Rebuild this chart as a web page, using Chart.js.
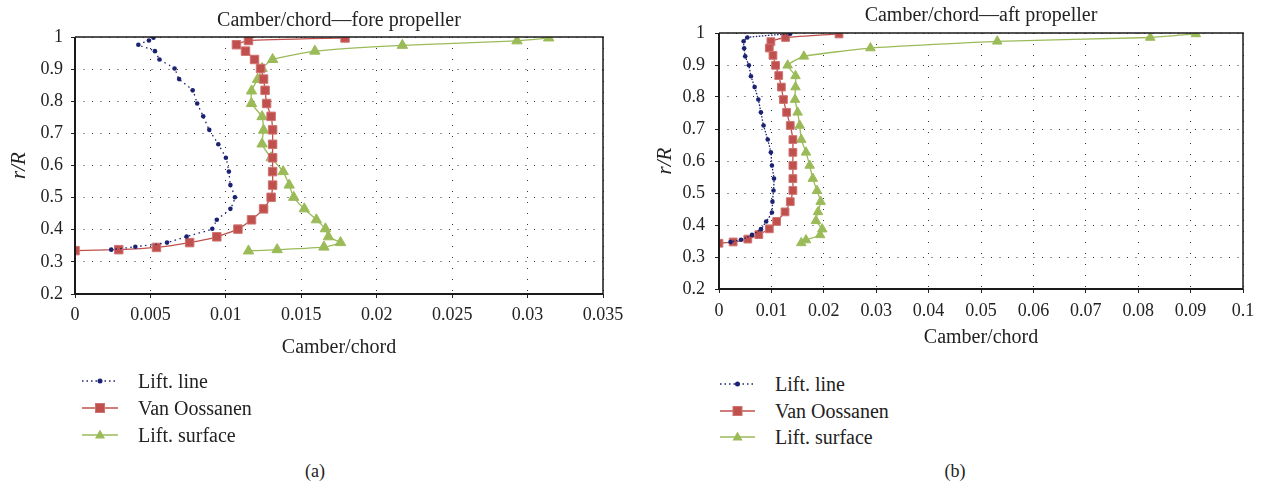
<!DOCTYPE html>
<html>
<head>
<meta charset="utf-8">
<script src="https://cdn.jsdelivr.net/npm/chart.js@4"></script>
<style>
  body { margin: 0; background: #fff; width: 1269px; height: 491px; position: relative; overflow: hidden; font-family: "Liberation Serif", serif; color: #222; }
  canvas { position: absolute; top: 0; }
  #foreChart { left: 0; }
  #aftChart { left: 640px; }
  .legend { position: absolute; font-size: 20px; }
  .legend div { position: absolute; white-space: nowrap; height: 24px; line-height: 24px; }
  .legend svg { position: absolute; top: 4px; }
  .legend span { position: absolute; }
  .cap { position: absolute; font-size: 18px; transform: translate(-50%, -50%); }
</style>
</head>
<body>
<canvas id="foreChart" width="640" height="370"></canvas>
<canvas id="aftChart" width="629" height="370"></canvas>

<div class="legend" id="legA" style="left:82px; top:369px;"></div>
<div class="legend" id="legB" style="left:720px; top:372px;"></div>
<div class="cap" style="left:315px; top:471px;">(a)</div>
<div class="cap" style="left:955px; top:471px;">(b)</div>

<script>
// fore propeller (a)
const foreLiftLineR = [0.998, 0.989, 0.976, 0.956, 0.930, 0.902, 0.869, 0.834, 0.793, 0.753, 0.711, 0.666, 0.624, 0.581, 0.539, 0.501, 0.465, 0.431, 0.403, 0.379, 0.360, 0.347, 0.338]
const foreLiftLineC = [0.0052, 0.0049, 0.0042, 0.0053, 0.0056, 0.0066, 0.0069, 0.0078, 0.0081, 0.0085, 0.0089, 0.0095, 0.0100, 0.0102, 0.0103, 0.0106, 0.0103, 0.0094, 0.0091, 0.0074, 0.0061, 0.0040, 0.0024]
const foreOossR = [0.997, 0.989, 0.976, 0.956, 0.930, 0.902, 0.869, 0.834, 0.793, 0.753, 0.711, 0.666, 0.624, 0.581, 0.539, 0.501, 0.465, 0.431, 0.402, 0.378, 0.360, 0.345, 0.338, 0.335]
const foreOossC = [0.0179, 0.0115, 0.0107, 0.0113, 0.0119, 0.0123, 0.0125, 0.0126, 0.0127, 0.0130, 0.0131, 0.0131, 0.0131, 0.0131, 0.0131, 0.0130, 0.0125, 0.0117, 0.0108, 0.0094, 0.0076, 0.0054, 0.0029, 0.0000]
const foreSurfR = [0.997, 0.988, 0.974, 0.956, 0.930, 0.902, 0.868, 0.832, 0.793, 0.752, 0.710, 0.667, 0.624, 0.581, 0.539, 0.501, 0.465, 0.431, 0.403, 0.378, 0.360, 0.346, 0.338, 0.334]
const foreSurfC = [0.0314, 0.0293, 0.0217, 0.0159, 0.0131, 0.0124, 0.0121, 0.0117, 0.0117, 0.0124, 0.0125, 0.0124, 0.0130, 0.0138, 0.0142, 0.0145, 0.0152, 0.0160, 0.0166, 0.0168, 0.0176, 0.0165, 0.0134, 0.0115]

// aft propeller (b)
const aftLiftLineR = [0.998, 0.986, 0.974, 0.952, 0.927, 0.899, 0.865, 0.831, 0.792, 0.752, 0.711, 0.667, 0.627, 0.586, 0.545, 0.508, 0.473, 0.439, 0.411, 0.387, 0.369, 0.354, 0.347]
const aftLiftLineC = [0.0136, 0.0054, 0.0047, 0.0048, 0.0050, 0.0057, 0.0061, 0.0068, 0.0075, 0.0080, 0.0085, 0.0093, 0.0099, 0.0101, 0.0105, 0.0104, 0.0102, 0.0101, 0.0090, 0.0080, 0.0063, 0.0042, 0.0022]
const aftOossR = [0.997, 0.986, 0.973, 0.953, 0.930, 0.899, 0.867, 0.831, 0.792, 0.752, 0.711, 0.667, 0.627, 0.586, 0.545, 0.508, 0.473, 0.441, 0.411, 0.388, 0.370, 0.356, 0.347, 0.343]
const aftOossC = [0.0229, 0.0127, 0.0099, 0.0096, 0.0103, 0.0108, 0.0114, 0.0119, 0.0123, 0.0129, 0.0136, 0.0141, 0.0141, 0.0141, 0.0141, 0.0141, 0.0136, 0.0126, 0.0110, 0.0096, 0.0076, 0.0055, 0.0027, 0.0000]
const aftSurfR = [0.997, 0.986, 0.974, 0.953, 0.927, 0.899, 0.866, 0.831, 0.792, 0.752, 0.711, 0.667, 0.627, 0.586, 0.545, 0.507, 0.473, 0.441, 0.413, 0.387, 0.369, 0.353, 0.344]
const aftSurfC = [0.0910, 0.0823, 0.0531, 0.0289, 0.0162, 0.0131, 0.0146, 0.0146, 0.0145, 0.0150, 0.0154, 0.0157, 0.0166, 0.0173, 0.0179, 0.0187, 0.0194, 0.0189, 0.0185, 0.0197, 0.0193, 0.0166, 0.0157]

const seriesNames = ['Lift. line', 'Van Oossanen', 'Lift. surface']
const navy = '#1c2272'
const red = '#c0504d'
const green = '#9bbb59'
const fontFam = '"Liberation Serif", "Times New Roman", serif'

function pts(c, r) {
  return c.map((v, i) => ({ x: v, y: r[i] }))
}

// plot frame: thick left/bottom, thinner top/right
const frame = {
  id: 'frame',
  afterDraw(chart) {
    const a = chart.chartArea
    const ctx = chart.ctx
    ctx.save()
    ctx.strokeStyle = '#1a1a1a'
    ctx.lineWidth = 1.5
    ctx.beginPath()
    ctx.moveTo(a.left, a.top)
    ctx.lineTo(a.right, a.top)
    ctx.lineTo(a.right, a.bottom)
    ctx.stroke()
    ctx.lineWidth = 2
    ctx.beginPath()
    ctx.moveTo(a.left, a.top)
    ctx.lineTo(a.left, a.bottom)
    ctx.lineTo(a.right, a.bottom)
    ctx.stroke()
    ctx.restore()
  }
}

function makeChart(id, o) {
  const data = {
    datasets: [
      {
        label: seriesNames[0],
        data: pts(o.lineC, o.lineR),
        borderColor: navy,
        backgroundColor: navy,
        borderWidth: 1.3,
        borderDash: o.dash,
        pointStyle: 'circle',
        pointRadius: 2.3,
        pointBorderWidth: 0,
        tension: 0.15
      },
      {
        label: seriesNames[1],
        data: pts(o.oossC, o.oossR),
        borderColor: red,
        backgroundColor: red,
        borderWidth: 1.3,
        pointStyle: 'rect',
        pointRadius: o.sq,
        pointBorderWidth: 1,
        pointBorderColor: '#cf7471',
        tension: 0.15
      },
      {
        label: seriesNames[2],
        data: pts(o.surfC, o.surfR),
        borderColor: green,
        backgroundColor: green,
        borderWidth: 1.3,
        pointStyle: 'triangle',
        pointRadius: o.tri,
        pointBorderWidth: 1,
        tension: 0.15
      }
    ]
  }

  const config = {
    type: 'scatter',
    data: data,
    options: {
      responsive: false,
      animation: false,
      showLine: true,
      layout: { padding: { left: 0, right: o.padRight, top: 0, bottom: o.padBottom } },
      plugins: {
        legend: { display: false },
        tooltip: { enabled: false },
        title: {
          display: true,
          text: o.title,
          fullSize: false,
          color: '#222',
          font: { family: fontFam, size: 20, weight: 'normal', lineHeight: 1.2 },
          padding: { top: o.titleTop, bottom: o.titleBottom }
        }
      },
      scales: {
        x: {
          type: 'linear',
          min: 0,
          max: o.xMax,
          afterFit: s => { s.height = o.xHeight },
          ticks: {
            stepSize: o.xStep,
            autoSkip: false,
            maxRotation: 0,
            padding: o.xTickPad,
            color: '#222',
            font: { family: fontFam, size: 18 },
            callback: v => parseFloat(v.toFixed(4)) + ''
          },
          grid: { color: '#333', lineWidth: 1, tickLength: 4, tickColor: '#222', tickBorderDash: [] },
          border: { display: false, dash: [1, 10] },
          title: {
            display: true,
            text: 'Camber/chord',
            color: '#222',
            font: { family: fontFam, size: 20, lineHeight: 1.2 },
            padding: { top: 0, bottom: 0 }
          }
        },
        y: {
          type: 'linear',
          min: 0.2,
          max: 1,
          afterFit: s => { s.width = o.yWidth },
          ticks: {
            stepSize: 0.1,
            autoSkip: false,
            padding: o.yTickPad,
            color: '#222',
            font: { family: fontFam, size: 18 },
            callback: v => parseFloat(v.toFixed(3)) + ''
          },
          grid: { color: '#333', lineWidth: 1, tickLength: 4, tickColor: '#222', tickBorderDash: [] },
          border: { display: false, dash: [1, 7.5] },
          title: {
            display: true,
            text: 'r/R',
            color: '#222',
            font: { family: fontFam, size: 21, style: 'italic', lineHeight: 1.2 },
            padding: { top: o.yTitleTop, bottom: 0 }
          }
        }
      }
    },
    plugins: [frame]
  }
  return new Chart(document.getElementById(id), config)
}

makeChart('foreChart', {
  title: 'Camber/chord\u2014fore propeller',
  lineC: foreLiftLineC, lineR: foreLiftLineR,
  oossC: foreOossC, oossR: foreOossR,
  surfC: foreSurfC, surfR: foreSurfR,
  dash: [1.5, 3.5], sq: 6, tri: 6,
  xMax: 0.035, xStep: 0.005,
  padRight: 37, padBottom: 10,
  titleTop: 9, titleBottom: 4,
  xHeight: 66, xTickPad: 6,
  yWidth: 75, yTickPad: 8, yTitleTop: 7
})

makeChart('aftChart', {
  title: 'Camber/chord\u2014aft propeller',
  lineC: aftLiftLineC, lineR: aftLiftLineR,
  oossC: aftOossC, oossR: aftOossR,
  surfC: aftSurfC, surfR: aftSurfR,
  dash: [1.5, 1.5], sq: 5.5, tri: 5.5,
  xMax: 0.1, xStep: 0.01,
  padRight: 26, padBottom: 20,
  titleTop: 3.5, titleBottom: 5.5,
  xHeight: 61, xTickPad: 7,
  yWidth: 79, yTickPad: 10, yTitleTop: 13
})

// legends below each chart
function legend(id, gap, iconW, textX) {
  const el = document.getElementById(id)
  const icons = [
    `<line x1="0" y1="8" x2="${iconW}" y2="8" stroke="${navy}" stroke-width="1.3" stroke-dasharray="1.5 3"/><circle cx="${iconW / 2}" cy="8" r="2.5" fill="${navy}"/>`,
    `<line x1="0" y1="8" x2="${iconW}" y2="8" stroke="${red}" stroke-width="1.3"/><rect x="${iconW / 2 - 4.5}" y="3.5" width="9" height="9" fill="${red}" stroke="#cf7471"/>`,
    `<line x1="0" y1="8" x2="${iconW}" y2="8" stroke="${green}" stroke-width="1.3"/><polygon points="${iconW / 2},2.5 ${iconW / 2 + 5},11.5 ${iconW / 2 - 5},11.5" fill="${green}"/>`
  ]
  seriesNames.forEach((name, i) => {
    const row = document.createElement('div')
    row.style.top = (i * gap) + 'px'
    row.innerHTML = `<svg width="${iconW}" height="16">${icons[i]}</svg><span style="left:${textX}px">${name}</span>`
    el.appendChild(row)
  })
}
legend('legA', 27, 36, 56)
legend('legB', 26.5, 35, 55)
</script>
</body>
</html>
